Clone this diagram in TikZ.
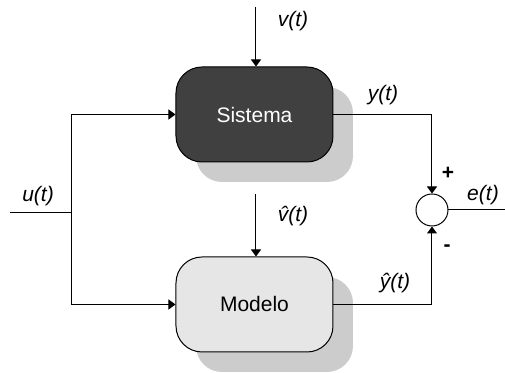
\documentclass[tikz,border=0pt]{standalone}
\usepackage{fontspec}
\setsansfont{Liberation Sans}
\usetikzlibrary{arrows.meta}
\usetikzlibrary{shadows}
\definecolor{sisgray}{HTML}{404040}
\definecolor{modgray}{HTML}{E6E6E6}
\definecolor{shadowgray}{HTML}{CCCCCC}
\tikzset{>={Triangle[length=3.5pt,width=5pt]}}
\tikzset{
  block/.style={draw,line width=0.5pt,rounded corners=13pt,minimum width=78.5pt,minimum height=47.5pt,
    drop shadow={shadow xshift=10pt,shadow yshift=-10pt,fill=shadowgray,opacity=1}},
  sig/.style={font=\sffamily\itshape,anchor=base,inner sep=0pt},
  sgn/.style={font=\sffamily\bfseries,inner sep=0pt}
}

\begin{document}
\begin{tikzpicture}[x=0.5pt,y=-0.5pt,line width=0.5pt]
\useasboundingbox (0,0) rectangle (505,373);
\fontsize{10.5}{12}\selectfont

% blocks
\node[block,fill=sisgray,text=white,font=\sffamily] (sis) at (254.5,114.5) {Sistema};
\node[block,fill=modgray,font=\sffamily] (mod) at (254.5,304.5) {Modelo};
\node[draw,circle,minimum size=16pt,inner sep=0pt] (sum) at (432,210) {};

% free ends
\coordinate (vin) at (256,7);
\coordinate (vhin) at (256,194);
\coordinate (uin) at (10,213);
\coordinate (ubr) at (72,213);
\coordinate (eout) at (505,210);

% signals
\draw[->] (vin) -- (vin |- sis.north);
\draw[->] (vhin) -- (vhin |- mod.north);
\draw (uin) -- (ubr);
\draw[->] (ubr) |- (sis.west);
\draw[->] (ubr) |- (mod.west);
\draw[->] (sis.east) -| (sum.north);
\draw[->] (mod.east) -| (sum.south);
\draw (sum.east) -- (eout);

% labels
\node[sig] (vlab) at (293,27) {v(t)};
\node[sig] (vhlab) at (293,222) {\^{v}(t)};
\node[sig] (ulab) at (38,202) {u(t)};
\node[sig] (ylab) at (383,101) {y(t)};
\node[sig] (yhlab) at (395,289) {\^{y}(t)};
\node[sig] (elab) at (483,201) {e(t)};
\node[sgn] (plus) at (448,173) {+};
\node[sgn] (minus) at (447,248) {-};
\end{tikzpicture}
\end{document}
